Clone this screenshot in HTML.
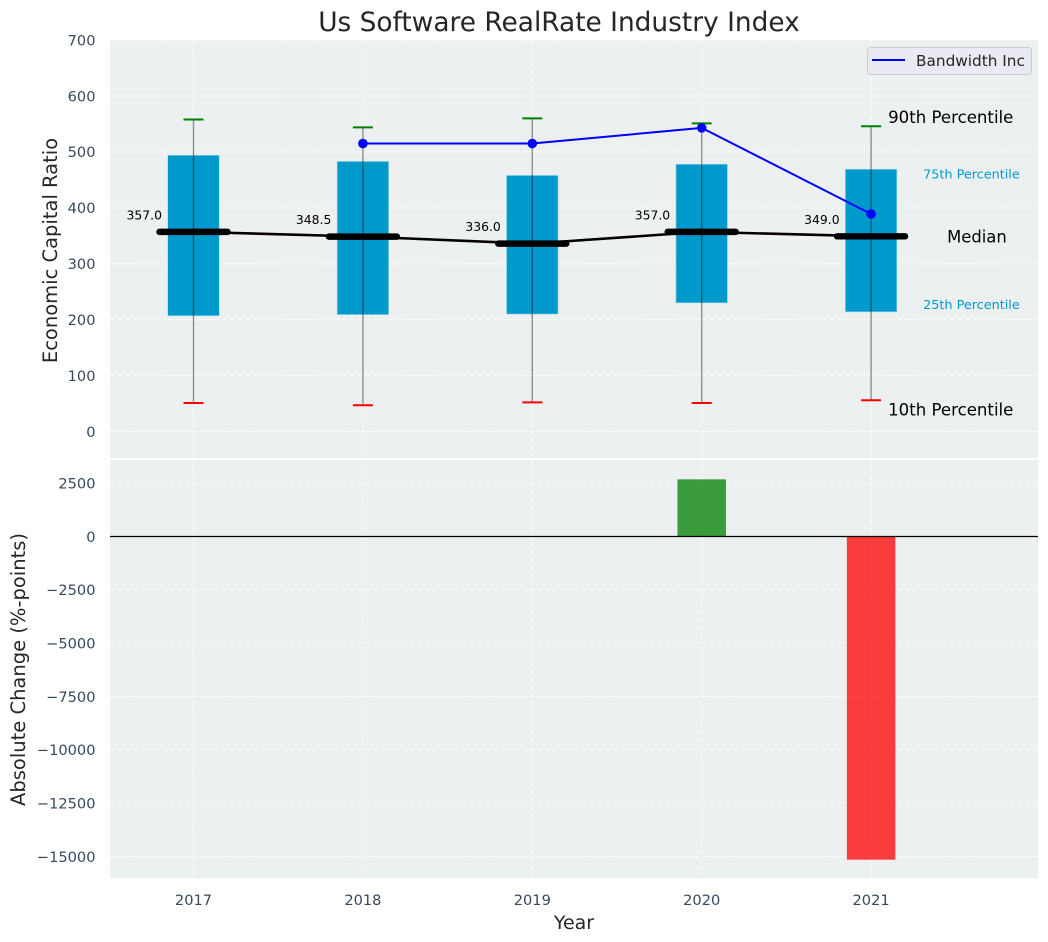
<!DOCTYPE html>
<html lang="en">
<head>
<meta charset="utf-8">
<title>Us Software RealRate Industry Index</title>
<style>
html,body{margin:0;padding:0;background:#fff;width:1048px;height:942px;overflow:hidden}
svg{display:block;font-family:"DejaVu Sans","Liberation Sans",sans-serif}
</style>
</head>
<body>
<svg id="chart" xmlns="http://www.w3.org/2000/svg" width="1048" height="942" viewBox="0 0 1048 942"></svg>
<script>
const years = [2017, 2018, 2019, 2020, 2021];
const p10 = [51, 47, 52, 51, 56];
const p25 = [207, 209, 210, 230, 214];
const medians = [357, 348.5, 336, 357, 349];
const p75 = [494, 483, 458, 478, 469];
const p90 = [558, 544, 560, 551, 546];
const bandwidth = [null, 515, 515, 543, 389];
const changes = [null, null, null, 2680, -15150];
const topTicks = [0, 100, 200, 300, 400, 500, 600, 700];
const bottomTicks = [2500, 0, -2500, -5000, -7500, -10000, -12500, -15000];
const seriesName = 'Bandwidth Inc';

const svg = document.getElementById('chart');
const NS = 'http://www.w3.org/2000/svg';
const X = v => 193.5 + (v - 2017) * 169.4;
const YT = v => 431.5 - v * 0.55915;
const YB = v => 536.5 - v * 0.021333;
const L = 110, R = 1038, T1 = 40, B1 = 458, T2 = 460, B2 = 878;
const tickColor = '#34495e', textColor = '#262626';

function make(tag, attrs, text) {
  const el = document.createElementNS(NS, tag);
  for (const k in attrs) el.setAttribute(k, attrs[k]);
  if (text !== undefined) el.textContent = text;
  svg.appendChild(el);
  return el;
}
function fmt(v) { return String(v).replace('-', '\u2212'); }

let el;
el = make('rect', {x: L, y: T1, width: R - L, height: B1 - T1, fill: '#ecf0f1'});


el = make('rect', {x: L, y: T2, width: R - L, height: B2 - T2, fill: '#ecf0f1'});



const gridStyle = {stroke: '#ffffff', 'stroke-width': 1, 'stroke-dasharray': '5 2.5', opacity: 0.85};
topTicks.forEach(t => {
  el = make('line', {x1: L, x2: R, y1: YT(t), y2: YT(t), ...gridStyle});
  
  
  el = make('text', {x: 95.5, y: YT(t) + 5.3, 'text-anchor': 'end', 'font-size': 14.6, fill: tickColor}, fmt(t));
  
  
});
bottomTicks.forEach(t => {
  el = make('line', {x1: L, x2: R, y1: YB(t), y2: YB(t), ...gridStyle});
  
  
  el = make('text', {x: 95.5, y: YB(t) + 5.3, 'text-anchor': 'end', 'font-size': 14.6, fill: tickColor}, fmt(t));
  
  
});
years.forEach(y => {
  el = make('line', {x1: X(y), x2: X(y), y1: T1, y2: B1, ...gridStyle});
  
  
  el = make('line', {x1: X(y), x2: X(y), y1: T2, y2: B2, ...gridStyle});
  
  
  el = make('text', {x: X(y), y: 905, 'text-anchor': 'middle', 'font-size': 14.6, fill: tickColor}, y);
  
  
});

/* boxes */
const boxW = 51.5;
years.forEach((y, i) => {
  el = make('rect', {x: X(y) - boxW / 2, y: YT(p75[i]), width: boxW, height: YT(p25[i]) - YT(p75[i]), fill: '#0099cc', stroke: '#a9d8e8', 'stroke-width': 0.6});
  
  
});
/* whiskers and caps */
years.forEach((y, i) => {
  el = make('line', {x1: X(y), x2: X(y), y1: YT(p90[i]), y2: YT(p10[i]), stroke: '#000', 'stroke-opacity': 0.42, 'stroke-width': 1.4});
  
  
  el = make('line', {x1: X(y) - 10, x2: X(y) + 10, y1: YT(p90[i]), y2: YT(p90[i]), stroke: '#008000', 'stroke-width': 2});
  
  
  el = make('line', {x1: X(y) - 10, x2: X(y) + 10, y1: YT(p10[i]), y2: YT(p10[i]), stroke: '#ff0000', 'stroke-width': 2});
  
  
});
/* median line */
el = make('polyline', {points: years.map((y, i) => X(y) + ',' + YT(medians[i])).join(' '), fill: 'none', stroke: '#000', 'stroke-width': 2.6});


years.forEach((y, i) => {
  el = make('line', {x1: X(y) - 34, x2: X(y) + 34, y1: YT(medians[i]), y2: YT(medians[i]), stroke: '#000', 'stroke-width': 6.4, 'stroke-linecap': 'round'});
  
  
  el = make('text', {x: X(y) - 31.5, y: YT(medians[i]) - 12.5, 'text-anchor': 'end', 'font-size': 12.4, fill: '#000'}, medians[i].toFixed(1));
  
  
});
/* bandwidth series */
const seriesPts = years.map((y, i) => bandwidth[i] === null ? null : [X(y), YT(bandwidth[i])]).filter(Boolean);
el = make('polyline', {points: seriesPts.map(p => p.join(',')).join(' '), fill: 'none', stroke: '#0000ff', 'stroke-width': 2});


years.forEach((y, i) => {
  if (bandwidth[i] === null) return;
  el = make('circle', {cx: X(y), cy: YT(bandwidth[i]), r: 4.8, fill: '#0000ff'});
  
  
});
/* percentile annotations */
const lastI = years.length - 1, lastX = X(years[lastI]);
el = make('text', {x: lastX + 17, y: YT(p90[lastI]) - 3, 'font-size': 16.6, fill: '#000'}, '90th Percentile');


el = make('text', {x: lastX + 52, y: YT(p75[lastI]) + 9, 'font-size': 12.8, fill: '#0099cc'}, '75th Percentile');


el = make('text', {x: lastX + 76, y: YT(medians[lastI]) + 6, 'font-size': 16.4, fill: '#000'}, 'Median');


el = make('text', {x: lastX + 52, y: YT(p25[lastI]) - 3, 'font-size': 12.8, fill: '#0099cc'}, '25th Percentile');


el = make('text', {x: lastX + 17, y: YT(p10[lastI]) + 15.5, 'font-size': 16.6, fill: '#000'}, '10th Percentile');



/* change bars */
const barW = 48.5;
years.forEach((y, i) => {
  if (changes[i] === null) return;
  const v = changes[i];
  el = make('rect', {x: X(y) - barW / 2, y: Math.min(YB(v), YB(0)), width: barW, height: Math.abs(YB(v) - YB(0)), fill: v >= 0 ? '#008000' : '#ff0000', 'fill-opacity': 0.75});
  
  
});
el = make('line', {x1: L, x2: R, y1: YB(0), y2: YB(0), stroke: '#000', 'stroke-width': 1.3});



/* legend */
el = make('rect', {x: 867.5, y: 47.5, width: 164, height: 27, rx: 3, fill: '#eaeaf2', stroke: '#cccccc', 'stroke-width': 1});


el = make('line', {x1: 872, x2: 905, y1: 60, y2: 60, stroke: '#0000ff', 'stroke-width': 2});


el = make('text', {x: 916, y: 66, 'font-size': 15.3, fill: textColor}, seriesName);



/* titles */
el = make('text', {x: 559, y: 31, 'text-anchor': 'middle', 'font-size': 26.4, fill: textColor}, 'Us Software RealRate Industry Index');


el = make('text', {x: 574, y: 929, 'text-anchor': 'middle', 'font-size': 19, fill: textColor}, 'Year');


el = make('text', {x: 0, y: 0, transform: 'translate(57,250.5) rotate(-90)', 'text-anchor': 'middle', 'font-size': 19.5, fill: textColor}, 'Economic Capital Ratio');


el = make('text', {x: 0, y: 0, transform: 'translate(25,669.5) rotate(-90)', 'text-anchor': 'middle', 'font-size': 19.5, fill: textColor}, 'Absolute Change (%-points)');


</script>
</body>
</html>
